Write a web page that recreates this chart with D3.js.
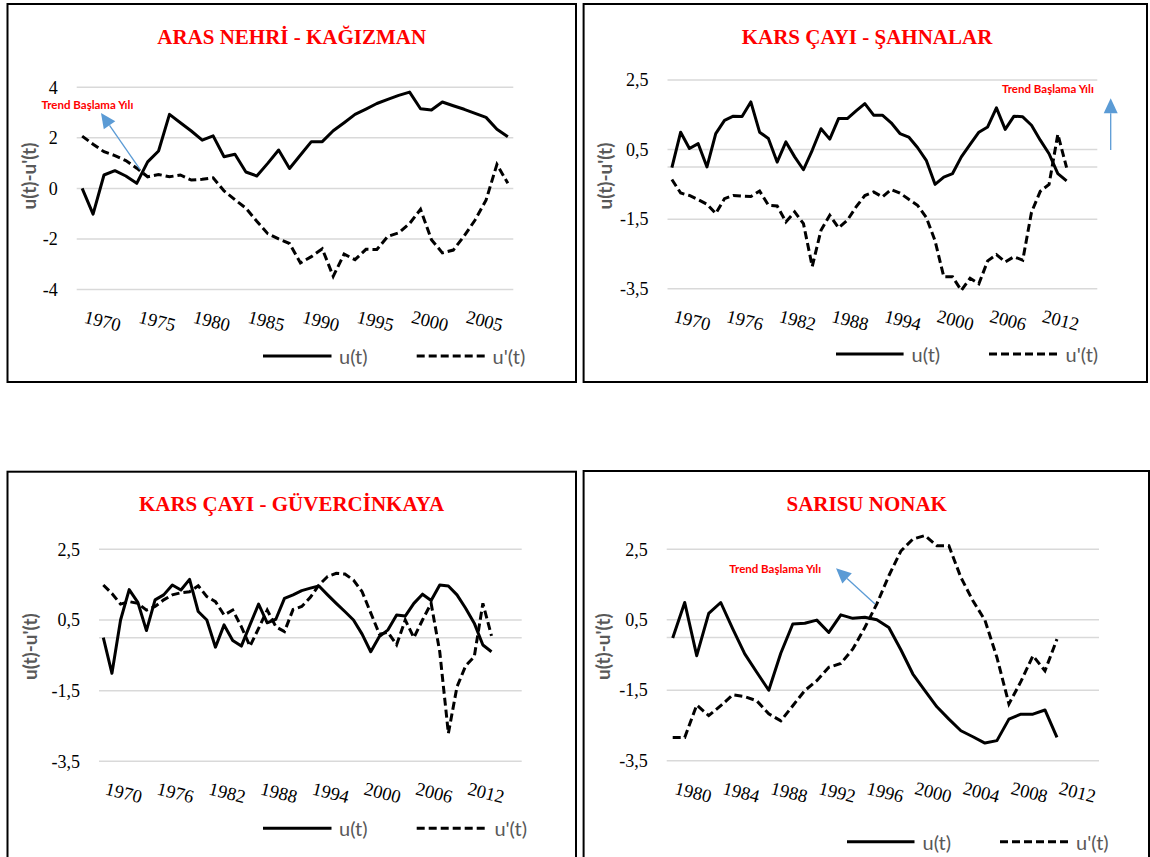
<!DOCTYPE html>
<html>
<head>
<meta charset="utf-8">
<script src="https://cdn.jsdelivr.net/npm/d3@7"></script>
<style>
  body { margin: 0; background: #fff; }
  svg { display: block; }
</style>
</head>
<body>
<svg id="chart" width="1150" height="857"></svg>
<script>
// ARAS NEHRİ - KAĞIZMAN
const arasYears = d3.range(1970, 2010);
const arasU = [0.0, -1.02, 0.53, 0.7, 0.49, 0.2, 1.05, 1.48, 2.93, 2.6, 2.27, 1.91, 2.08, 1.25, 1.35, 0.65, 0.49, 0.99, 1.52, 0.79,
    1.32, 1.85, 1.85, 2.28, 2.6, 2.93, 3.14, 3.36, 3.52, 3.68, 3.81, 3.15, 3.1, 3.42, 3.27, 3.13, 2.97, 2.81, 2.34, 2.04];
const arasU2 = [2.07, 1.75, 1.45, 1.3, 1.1, 0.8, 0.46, 0.55, 0.46, 0.53, 0.33, 0.36, 0.42, -0.1, -0.45, -0.78, -1.3, -1.79, -2.0, -2.18,
    -2.95, -2.7, -2.39, -3.48, -2.6, -2.82, -2.41, -2.42, -1.9, -1.76, -1.39, -0.83, -2.03, -2.55, -2.44, -1.88, -1.25, -0.47, 0.95, 0.2];
const arasTicks = [-4, -2, 0, 2, 4];
const arasLabels = [1970, 1975, 1980, 1985, 1990, 1995, 2000, 2005];

// KARS ÇAYI - ŞAHNALAR
const sahYears = d3.range(1970, 2019);
const sahU = [-0.02, 1.0, 0.53, 0.67, 0.0, 0.96, 1.34, 1.46, 1.45, 1.87, 1.0, 0.82, 0.14, 0.72, 0.29, -0.08, 0.48, 1.1, 0.8, 1.39,
    1.39, 1.61, 1.82, 1.49, 1.49, 1.27, 0.96, 0.86, 0.56, 0.19, -0.5, -0.29, -0.19, 0.29, 0.65, 1.0, 1.15, 1.7, 1.08, 1.46,
    1.44, 1.2, 0.77, 0.38, -0.19, -0.4];
const sahU2 = [-0.36, -0.75, -0.82, -0.94, -1.07, -1.34, -0.91, -0.82, -0.84, -0.85, -0.69, -1.1, -1.12, -1.58, -1.29, -1.63, -2.86, -1.82, -1.39, -1.75,
    -1.53, -1.15, -0.82, -0.72, -0.86, -0.65, -0.75, -0.93, -1.1, -1.45, -2.12, -3.16, -3.16, -3.55, -3.2, -3.36, -2.7, -2.52, -2.73, -2.58,
    -2.68, -1.3, -0.7, -0.5, 0.94, -0.02];
const sahTicks = [-3.5, -1.5, 0.5, 2.5];
const sahLabels = [1970, 1976, 1982, 1988, 1994, 2000, 2006, 2012];

// KARS ÇAYI - GÜVERCİNKAYA
const guvYears = d3.range(1970, 2019);
const guvU = [0.0, -1.01, 0.5, 1.36, 1.0, 0.2, 1.07, 1.21, 1.49, 1.35, 1.65, 0.74, 0.5, -0.27, 0.36, -0.08, -0.24, 0.36, 0.95, 0.42,
    0.52, 1.11, 1.21, 1.33, 1.4, 1.46, 1.21, 0.97, 0.74, 0.5, 0.1, -0.4, 0.03, 0.22, 0.64, 0.61, 0.97, 1.23, 1.05, 1.49,
    1.46, 1.21, 0.83, 0.41, -0.21, -0.4];
const guvU2 = [1.49, 1.25, 0.95, 1.02, 0.97, 0.78, 0.88, 1.07, 1.21, 1.27, 1.3, 1.47, 1.16, 1.02, 0.64, 0.78, 0.31, -0.24, 0.26, 0.78,
    0.31, 0.17, 0.8, 0.88, 1.14, 1.49, 1.73, 1.82, 1.8, 1.63, 1.3, 0.7, 0.1, 0.15, -0.2, 0.5, 0.0, 0.5, 0.97, -0.4,
    -2.71, -1.39, -0.8, -0.54, 0.97, 0.05];
const guvTicks = [-3.5, -1.5, 0.5, 2.5];
const guvLabels = [1970, 1976, 1982, 1988, 1994, 2000, 2006, 2012];

// SARISU NONAK
const sarYears = d3.range(1980, 2016);
const sarU = [-0.02, 0.99, -0.52, 0.68, 0.99, 0.24, -0.47, -0.99, -1.5, -0.45, 0.38, 0.4, 0.49, 0.14, 0.64, 0.54, 0.57, 0.5, 0.28, -0.35,
    -1.04, -1.51, -1.97, -2.32, -2.65, -2.82, -3.0, -2.93, -2.32, -2.18, -2.18, -2.06, -2.84];
const sarU2 = [-2.84, -2.84, -1.92, -2.22, -1.94, -1.63, -1.68, -1.8, -2.17, -2.37, -1.94, -1.51, -1.23, -0.85, -0.74, -0.33, 0.28, 0.95, 1.75, 2.45,
    2.79, 2.89, 2.6, 2.6, 1.7, 1.04, 0.49, -0.57, -1.89, -1.25, -0.52, -0.95, -0.05];
const sarTicks = [-3.5, -1.5, 0.5, 2.5];
const sarLabels = [1980, 1984, 1988, 1992, 1996, 2000, 2004, 2008, 2012];

const serifFont = "'Liberation Serif', 'Times New Roman', serif";
const sansFont = "Lato, 'Open Sans', sans-serif";
const gridColor = "#d9d9d9";
const grayText = "#595959";
const arrowColor = "#5b9bd5";

const panels = [
    {
        title: "ARAS NEHRİ - KAĞIZMAN", years: arasYears, u: arasU, u2: arasU2, ticks: arasTicks, labels: arasLabels,
        domain: [-4, 4], box: [7.5, 4, 568.5, 378], plot: { l: 76.7, r: 513.3, t: 87.3, b: 289.5 },
        titleX: 291.7, titleY: 44, yTitleX: 28, yTitleY: 176,
        legendY: 356, legend: [263, 331.5, 339, 416.7, 485, 492.6],
        trend: { tx: 41.5, ty: 108.5, from: [140, 169.3], to: [101, 113] }
    },
    {
        title: "KARS ÇAYI - ŞAHNALAR", years: sahYears, u: sahU, u2: sahU2, ticks: sahTicks, labels: sahLabels,
        domain: [-3.5, 2.5], box: [583.6, 4, 563.4, 378], plot: { l: 667.5, r: 1097.3, t: 80, b: 288.7 },
        titleX: 867, titleY: 44, yTitleX: 604, yTitleY: 176,
        legendY: 354, legend: [836, 903.6, 911.6, 989, 1058, 1065.5],
        trend: { tx: 1002, ty: 92.7, from: [1110.7, 150], to: [1110.7, 98.3] }
    },
    {
        title: "KARS ÇAYI - GÜVERCİNKAYA", years: guvYears, u: guvU, u2: guvU2, ticks: guvTicks, labels: guvLabels,
        domain: [-3.5, 2.5], box: [7.5, 471.7, 568.5, 400], plot: { l: 99, r: 521.7, t: 549.3, b: 761.3 },
        titleX: 291.5, titleY: 510.7, yTitleX: 29.6, yTitleY: 646.7,
        legendY: 828.3, legend: [263, 331.5, 339, 416.7, 487, 494.4],
        trend: null
    },
    {
        title: "SARISU NONAK", years: sarYears, u: sarU, u2: sarU2, ticks: sarTicks, labels: sarLabels,
        domain: [-3.5, 2.5], box: [583.6, 471, 565.4, 400], plot: { l: 666.7, r: 1099, t: 549.3, b: 760.7 },
        titleX: 866.7, titleY: 510.7, yTitleX: 602.5, yTitleY: 646.7,
        legendY: 841.7, legend: [847, 914.5, 922.5, 1000, 1069, 1076],
        trend: { tx: 729.3, ty: 573.3, from: [875, 604], to: [836, 568.3] }
    }
];

const svg = d3.select("#chart");

function commaFormat(v) {
    return String(v).replace(".", ",");
}

function drawPanel(p) {
    const g = svg.append("g");

    // frame
    g.append("rect")
        .attr("x", p.box[0]).attr("y", p.box[1])
        .attr("width", p.box[2]).attr("height", p.box[3])
        .attr("fill", "none").attr("stroke", "#000").attr("stroke-width", 2);

    const x = d3.scaleBand().domain(p.years).range([p.plot.l, p.plot.r]).padding(0);
    const y = d3.scaleLinear().domain(p.domain).range([p.plot.b, p.plot.t]);
    const cx = yr => x(yr) + x.bandwidth() / 2;

    // gridlines + zero axis line
    const gridVals = p.ticks.concat(p.ticks.includes(0) ? [] : [0]);
    g.append("g").selectAll("line")
        .data(gridVals)
        .join("line")
        .attr("x1", p.plot.l).attr("x2", p.plot.r)
        .attr("y1", d => y(d)).attr("y2", d => y(d))
        .attr("stroke", gridColor).attr("stroke-width", 1.5);

    // y axis labels
    const yAxis = d3.axisLeft(y).tickValues(p.ticks).tickSize(0).tickPadding(19).tickFormat(commaFormat);
    const ya = g.append("g").attr("transform", `translate(${p.plot.l},0)`).call(yAxis);
    ya.select(".domain").remove();
    ya.selectAll("text")
        .attr("font-family", serifFont).attr("font-size", 18).attr("fill", "#000");

    // x labels, rotated
    const baseY = p.plot.b + 33;
    g.append("g").selectAll("text")
        .data(p.labels)
        .join("text")
        .attr("x", d => cx(d) + 1)
        .attr("y", baseY)
        .attr("transform", d => `rotate(14, ${cx(d) + 1}, ${baseY})`)
        .attr("font-family", serifFont).attr("font-size", 18.5).attr("fill", "#000")
        .text(d => d);

    // lines
    const line = d3.line().x((d, i) => cx(p.years[i])).y(d => y(d));
    g.append("path").datum(p.u2)
        .attr("d", line).attr("fill", "none").attr("stroke", "#000")
        .attr("stroke-width", 3).attr("stroke-dasharray", "8,4");
    g.append("path").datum(p.u)
        .attr("d", line).attr("fill", "none").attr("stroke", "#000")
        .attr("stroke-width", 3).attr("stroke-linejoin", "round");

    // title
    g.append("text")
        .attr("x", p.titleX).attr("y", p.titleY)
        .attr("text-anchor", "middle")
        .attr("font-family", serifFont).attr("font-weight", "bold").attr("font-size", 21)
        .attr("fill", "#ff0000")
        .text(p.title);

    // y axis title
    g.append("text")
        .attr("transform", `translate(${p.yTitleX},${p.yTitleY}) rotate(-90)`)
        .attr("text-anchor", "middle").attr("dominant-baseline", "central")
        .attr("font-family", sansFont).attr("font-weight", "bold").attr("font-size", 19)
        .attr("fill", grayText)
        .text("u(t)-u'(t)");

    // legend
    const L = p.legend;
    g.append("line").attr("x1", L[0]).attr("x2", L[1]).attr("y1", p.legendY).attr("y2", p.legendY)
        .attr("stroke", "#000").attr("stroke-width", 3);
    g.append("text").attr("x", L[2]).attr("y", p.legendY).attr("dominant-baseline", "central")
        .attr("font-family", sansFont).attr("font-size", 20).attr("fill", grayText).text("u(t)");
    g.append("line").attr("x1", L[3]).attr("x2", L[4]).attr("y1", p.legendY).attr("y2", p.legendY)
        .attr("stroke", "#000").attr("stroke-width", 3).attr("stroke-dasharray", "8,4");
    g.append("text").attr("x", L[5]).attr("y", p.legendY).attr("dominant-baseline", "central")
        .attr("font-family", sansFont).attr("font-size", 20).attr("fill", grayText).text("u'(t)");

    // trend annotation
    if (p.trend) {
        const t = p.trend;
        g.append("text").attr("x", t.tx).attr("y", t.ty)
            .attr("font-family", sansFont).attr("font-weight", "bold").attr("font-size", 11.5)
            .attr("fill", "#ff0000")
            .text("Trend Başlama Yılı");
        const dx = t.to[0] - t.from[0], dy = t.to[1] - t.from[1];
        const len = Math.hypot(dx, dy);
        const ux = dx / len, uy = dy / len;
        const headLen = 15, headHalf = 7;
        const bx = t.to[0] - ux * headLen, by = t.to[1] - uy * headLen;
        g.append("line")
            .attr("x1", t.from[0]).attr("y1", t.from[1]).attr("x2", bx).attr("y2", by)
            .attr("stroke", arrowColor).attr("stroke-width", 1.3);
        g.append("polygon")
            .attr("points", [
                [t.to[0], t.to[1]],
                [bx - uy * headHalf, by + ux * headHalf],
                [bx + uy * headHalf, by - ux * headHalf]
            ].map(pt => pt.join(",")).join(" "))
            .attr("fill", arrowColor);
    }
}

panels.forEach(drawPanel);
</script>
</body>
</html>
